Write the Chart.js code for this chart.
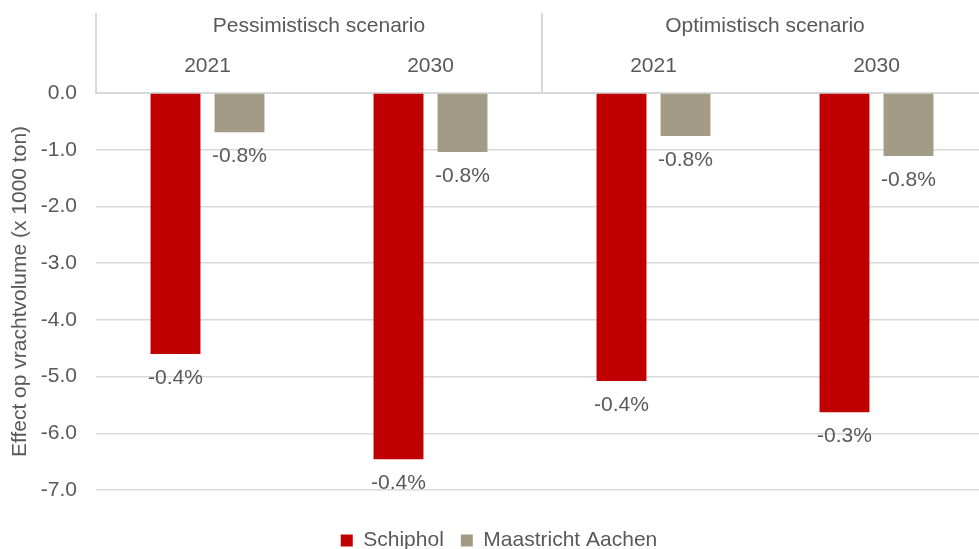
<!DOCTYPE html>
<html>
<head>
<meta charset="utf-8">
<script src="https://cdn.jsdelivr.net/npm/chart.js@4.4.1/dist/chart.umd.min.js"></script>
<style>
  html, body { margin: 0; padding: 0; background: #fff; overflow: hidden; }
  #wrap { width: 979px; height: 549px; overflow: hidden; }
</style>
</head>
<body>
<div id="wrap"><canvas id="chart" width="1000" height="561"></canvas></div>
<script>
// data
const years = ['2021', '2030', '2021', '2030'];
const scenarios = ['Pessimistisch scenario', 'Optimistisch scenario'];
const schiphol = [-4.60, -6.46, -5.08, -5.63];
const maastricht = [-0.69, -1.04, -0.76, -1.11];
const schipholPct = ['-0.4%', '-0.4%', '-0.4%', '-0.3%'];
const maastrichtPct = ['-0.8%', '-0.8%', '-0.8%', '-0.8%'];
const yRange = [-7, 0];

const TEXT = '#595959';
const GRID = '#d9d9d9';
const FONT = '"Liberation Sans", Arial, sans-serif';
Chart.defaults.font.family = FONT;
Chart.defaults.font.size = 21;
Chart.defaults.color = TEXT;

// percentage labels under each bar
const barLabels = {
  id: 'barLabels',
  afterDatasetsDraw(chart) {
    const ctx = chart.ctx;
    ctx.save();
    ctx.font = '21px ' + FONT;
    ctx.fillStyle = TEXT;
    ctx.textAlign = 'center';
    ctx.textBaseline = 'middle';
    chart.data.datasets.forEach((ds, i) => {
      chart.getDatasetMeta(i).data.forEach((bar, j) => {
        ctx.fillText(ds.pct[j], bar.x, bar.y + 24);
      });
    });
    ctx.restore();
  }
};

// vertical separators in the header between the scenario groups
const headerLines = {
  id: 'headerLines',
  afterDraw(chart) {
    const x = chart.scales.x;
    const top = chart.scales.x2.top;
    const ctx = chart.ctx;
    ctx.save();
    ctx.strokeStyle = GRID;
    ctx.lineWidth = 2;
    [0, 2, 4].forEach(i => {
      const px = Math.round(x.getPixelForValue(i - 0.5));
      ctx.beginPath();
      ctx.moveTo(px, top);
      ctx.lineTo(px, chart.chartArea.top);
      ctx.stroke();
    });
    ctx.restore();
  }
};

new Chart(document.getElementById('chart'), {
  type: 'bar',
  data: {
    labels: years,
    datasets: [
      { label: 'Schiphol', data: schiphol, pct: schipholPct, backgroundColor: '#c00000',
        categoryPercentage: 0.574, barPercentage: 0.78 },
      { label: 'Maastricht Aachen', data: maastricht, pct: maastrichtPct, backgroundColor: '#a39b86',
        categoryPercentage: 0.574, barPercentage: 0.78 }
    ]
  },
  options: {
    responsive: false,
    animation: false,
    devicePixelRatio: 1,
    layout: { padding: { top: 13, left: 10, right: 12, bottom: 0 } },
    plugins: {
      tooltip: { enabled: false },
      legend: {
        position: 'bottom',
        // empty title only used as spacing between plot and legend
        title: { display: true, text: '', font: { size: 10 }, padding: { top: 11, bottom: 0 } },
        labels: { boxWidth: 12, boxHeight: 12, padding: 17, color: TEXT, font: { size: 21 } }
      }
    },
    scales: {
      x: {
        position: 'top',
        grid: { display: false, drawTicks: false },
        border: { display: true, color: GRID, width: 2 },
        ticks: { padding: 14.4, color: TEXT }
      },
      x2: {
        type: 'category',
        position: 'top',
        labels: scenarios,
        grid: { display: false, drawTicks: false },
        border: { display: false },
        ticks: { padding: 0.4, color: TEXT }
      },
      y: {
        min: yRange[0],
        max: yRange[1],
        afterFit(scale) { scale.width = 86; },
        grid: { color: GRID, lineWidth: 1.5, drawTicks: false },
        border: { display: false },
        ticks: {
          stepSize: 1,
          padding: 19,
          color: TEXT,
          callback: v => v.toFixed(1)
        },
        title: {
          display: true,
          text: 'Effect op vrachtvolume (x 1000 ton)',
          color: TEXT,
          font: { size: 21 },
          padding: { top: -2, bottom: 0 }
        }
      }
    }
  },
  plugins: [barLabels, headerLines]
});
</script>
</body>
</html>
